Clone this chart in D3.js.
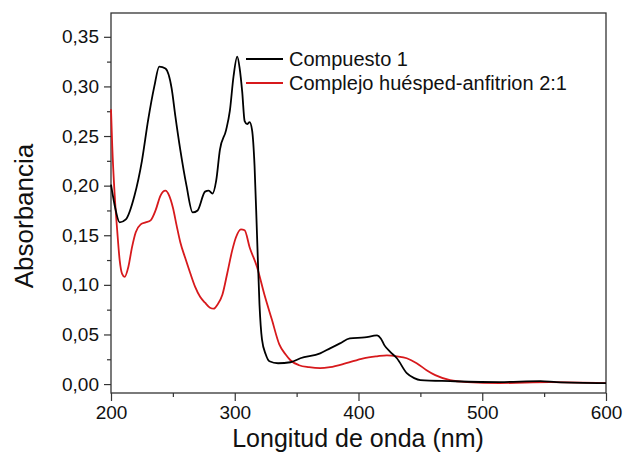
<!DOCTYPE html>
<html>
<head>
<meta charset="utf-8">
<script src="https://cdn.jsdelivr.net/npm/d3@7"></script>
<style>
  body { margin: 0; background: #fff; }
  svg text { font-family: "Liberation Sans", Arial, sans-serif; fill: #111; }
</style>
</head>
<body>
<svg id="chart"></svg>
<script>
// wavelength (nm) / absorbance
const compuestoNm = [200, 203, 207, 212, 219, 225, 230, 235, 239, 244, 249, 252, 256, 261, 266, 270, 276, 279, 282, 285, 288, 293, 296, 299, 302, 304, 306, 308, 310, 312, 314, 316, 318, 320, 322, 325, 328, 335, 345, 353, 369, 377, 385, 393, 405, 415, 418, 421, 426, 431, 439, 445, 450, 474, 514, 547, 560, 600];
const compuestoAbs = [0.201, 0.180, 0.163, 0.166, 0.190, 0.225, 0.266, 0.300, 0.320, 0.318, 0.298, 0.270, 0.236, 0.200, 0.173, 0.175, 0.194, 0.195, 0.192, 0.205, 0.236, 0.256, 0.275, 0.310, 0.330, 0.318, 0.295, 0.265, 0.262, 0.264, 0.256, 0.220, 0.150, 0.080, 0.045, 0.030, 0.023, 0.021, 0.022, 0.026, 0.031, 0.036, 0.041, 0.046, 0.047, 0.049, 0.046, 0.039, 0.032, 0.026, 0.011, 0.006, 0.004, 0.003, 0.002, 0.003, 0.002, 0.001];

const complejoNm = [200, 201, 203, 205, 207, 209, 211, 214, 217, 220, 224, 228, 232, 236, 240, 244, 247, 250, 253, 256, 260, 264, 268, 272, 276, 280, 283, 286, 290, 294, 298, 301, 305, 308, 312, 318, 324, 330, 336, 341, 345, 352, 360, 369, 377, 390, 404, 415, 423, 431, 439, 447, 455, 462, 474, 488, 514, 555, 600];
const complejoAbs = [0.277, 0.240, 0.190, 0.155, 0.125, 0.111, 0.108, 0.118, 0.138, 0.153, 0.161, 0.163, 0.165, 0.175, 0.190, 0.195, 0.190, 0.178, 0.160, 0.143, 0.127, 0.112, 0.098, 0.088, 0.082, 0.077, 0.076, 0.080, 0.090, 0.112, 0.135, 0.148, 0.156, 0.155, 0.138, 0.118, 0.090, 0.065, 0.040, 0.030, 0.024, 0.019, 0.017, 0.016, 0.017, 0.021, 0.026, 0.028, 0.029, 0.028, 0.026, 0.021, 0.014, 0.009, 0.004, 0.002, 0.001, 0.002, 0.001];

const seriesNames = ["Compuesto 1", "Complejo huésped-anfitrion 2:1"];
const seriesColors = ["#000000", "#d7191c"];
const xTicks = [200, 300, 400, 500, 600];
const yTicks = [0, 0.05, 0.10, 0.15, 0.20, 0.25, 0.30, 0.35];

const width = 623, height = 457;
const margin = {top: 13, right: 17, bottom: 64, left: 111};
const w = width - margin.left - margin.right;
const h = height - margin.top - margin.bottom;

const svg = d3.select("#chart").attr("width", width).attr("height", height);
const g = svg.append("g").attr("transform", `translate(${margin.left},${margin.top})`);

const x = d3.scaleLinear().domain([200, 600]).range([0, w]);
const y = d3.scaleLinear().domain([-0.009, 0.374]).range([h, 0]);

const fmt = d => d3.format(".2f")(d).replace(".", ",");

// minor ticks first
g.append("g")
    .attr("transform", `translate(0,${h})`)
    .call(d3.axisBottom(x).tickValues([250, 350, 450, 550]).tickSize(4).tickFormat(""))
    .call(a => a.select(".domain").remove());
g.append("g")
    .call(d3.axisLeft(y).tickValues([0.025, 0.075, 0.125, 0.175, 0.225, 0.275, 0.325]).tickSize(4).tickFormat(""))
    .call(a => a.select(".domain").remove());

const xAxisG = g.append("g")
    .attr("transform", `translate(0,${h})`)
    .call(d3.axisBottom(x).tickValues(xTicks).tickSize(8).tickPadding(5).tickFormat(d3.format("d")));
const yAxisG = g.append("g")
    .call(d3.axisLeft(y).tickValues(yTicks).tickSize(7).tickPadding(5).tickFormat(fmt));

g.selectAll(".tick line").attr("stroke", "#333").attr("stroke-width", 1.2);
g.selectAll(".domain").remove();
xAxisG.selectAll("text").style("font-size", "19px").attr("dy", "0.68em");
yAxisG.selectAll("text").style("font-size", "19px");

// frame
g.append("rect")
    .attr("width", w).attr("height", h)
    .attr("fill", "none").attr("stroke", "#333").attr("stroke-width", 1.3);

const line = d3.line()
    .x(d => x(d[0]))
    .y(d => y(d[1]))
    .curve(d3.curveMonotoneX);

const series = [
  d3.zip(compuestoNm, compuestoAbs),
  d3.zip(complejoNm, complejoAbs)
];

// red drawn first, black over it
[1, 0].forEach(i => {
  g.append("path")
      .datum(series[i])
      .attr("fill", "none")
      .attr("stroke", seriesColors[i])
      .attr("stroke-width", 1.8)
      .attr("stroke-linejoin", "round")
      .attr("d", line);
});

// legend
const legend = g.append("g").attr("transform", `translate(${246 - margin.left},${59 - margin.top})`);
seriesNames.forEach((name, i) => {
  legend.append("line")
      .attr("x1", 0).attr("x2", 37)
      .attr("y1", i * 24).attr("y2", i * 24)
      .attr("stroke", seriesColors[i]).attr("stroke-width", 1.8);
  legend.append("text")
      .attr("x", 43).attr("y", i * 24)
      .attr("dy", "0.35em")
      .style("font-size", "20px")
      .text(name);
});

// axis titles
svg.append("text")
    .attr("x", 358)
    .attr("y", 447)
    .attr("text-anchor", "middle")
    .style("font-size", "25px")
    .text("Longitud de onda (nm)");

svg.append("text")
    .attr("transform", `translate(33,${216}) rotate(-90)`)
    .attr("text-anchor", "middle")
    .style("font-size", "26px")
    .text("Absorbancia");
</script>
</body>
</html>
